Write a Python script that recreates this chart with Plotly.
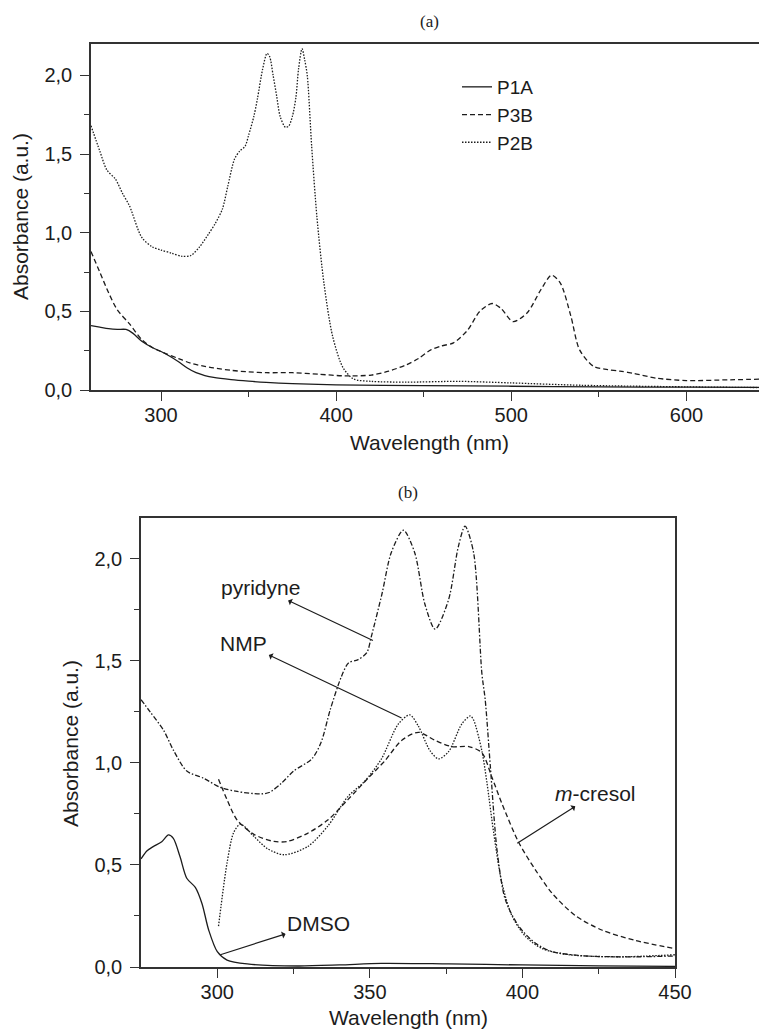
import plotly.graph_objects as go

# ---------------- data: panel (a) ----------------
p1a_wl = [260, 265, 270, 275, 280, 284, 289, 295, 300, 305, 310, 315, 320, 325, 330,
          340, 350, 360, 375, 400, 450, 500, 550, 600, 648]
p1a_abs = [0.41, 0.40, 0.39, 0.385, 0.385, 0.36, 0.31, 0.27, 0.245, 0.215, 0.18, 0.14, 0.11, 0.092, 0.08,
           0.066, 0.056, 0.048, 0.04, 0.033, 0.028, 0.024, 0.02, 0.018, 0.016]

p3b_wl = [260, 265, 270, 275, 282, 289, 295, 303, 310, 317, 325, 330, 340, 350, 360, 375, 390,
          405, 420, 430, 440, 447, 454, 460, 467, 475, 482, 489, 494, 501, 509, 517, 523, 528,
          534, 539, 547, 555, 562, 570, 583, 600, 625, 648]
p3b_abs = [0.88, 0.75, 0.62, 0.51, 0.42, 0.32, 0.27, 0.23, 0.20, 0.17, 0.15, 0.14, 0.125, 0.115, 0.11, 0.11, 0.10,
           0.09, 0.095, 0.12, 0.16, 0.20, 0.255, 0.28, 0.30, 0.38, 0.50, 0.55, 0.52, 0.435, 0.49, 0.64, 0.73, 0.68,
           0.47, 0.255, 0.15, 0.13, 0.12, 0.105, 0.075, 0.06, 0.065, 0.07]

p2b_wl = [260, 265, 269, 274, 278, 282, 289, 295, 300, 306, 312, 317, 322, 327, 331, 335, 338, 342,
          345, 348, 350, 353, 355, 358, 360.5, 362, 364, 366, 368, 371, 373, 375, 377, 378.5, 380.5,
          382, 383.5, 386, 389, 393, 398, 404, 410, 420, 440, 470, 500, 540, 600, 648]
p2b_abs = [1.68, 1.52, 1.40, 1.34, 1.25, 1.17, 0.97, 0.91, 0.89, 0.87, 0.85, 0.855, 0.91, 0.99, 1.06, 1.15, 1.29, 1.47,
           1.52, 1.55, 1.62, 1.74, 1.85, 2.04, 2.14, 2.12, 2.00, 1.87, 1.74, 1.67, 1.68, 1.74, 1.86, 2.04, 2.17,
           2.10, 2.00, 1.55, 1.10, 0.68, 0.34, 0.14, 0.07, 0.055, 0.05, 0.055, 0.045, 0.03, 0.02, 0.015]

# ---------------- data: panel (b) ----------------
pyr_wl = [275, 278, 282.4, 285.7, 290, 295.5, 301, 306.5, 314, 317, 321, 325, 331, 334, 337, 340.6,
          343, 346, 349, 350.5, 354, 357, 361, 364.7, 368, 371.4, 375.8, 379, 381.2, 384, 386.7,
          387.8, 389.5, 391.7, 394.4, 398.8, 404.3, 409.8, 420.8, 437, 450]
pyr_abs = [1.31, 1.25, 1.16, 1.06, 0.96, 0.925, 0.88, 0.86, 0.848, 0.855, 0.90, 0.96, 1.02, 1.10, 1.26, 1.42,
           1.49, 1.505, 1.54, 1.62, 1.83, 2.03, 2.14, 2.03, 1.78, 1.655, 1.80, 2.06, 2.16, 2.03, 1.44,
           1.31, 0.98, 0.57, 0.33, 0.20, 0.116, 0.075, 0.054, 0.05, 0.054]

nmp_wl = [300.4, 303.2, 305.4, 307.6, 312, 316.4, 321.9, 329.6, 336.2, 342.8, 348.3, 353.8, 359.3,
          363.1, 365.9, 369.7, 372.5, 375.8, 380.1, 382.9, 384, 386.7, 388.4, 390.6, 393.3, 396.6,
          401, 406.5, 415.3, 431.8, 450]
nmp_abs = [0.2, 0.51, 0.66, 0.70, 0.64, 0.58, 0.55, 0.59, 0.69, 0.835, 0.91, 1.02, 1.19,
           1.235, 1.18, 1.06, 1.02, 1.055, 1.19, 1.23, 1.21, 1.06, 0.90, 0.655, 0.41, 0.25,
           0.15, 0.09, 0.06, 0.05, 0.06]

cre_wl = [300.4, 303.2, 306.5, 312, 318.6, 322.9, 329.6, 336.2, 342.8, 349.4, 354.9, 360.4, 365.9,
          371.4, 376.8, 382.4, 386.7, 390, 393.3, 398.8, 404.3, 409.8, 417.5, 426.2, 437, 450]
cre_abs = [0.92, 0.82, 0.72, 0.65, 0.615, 0.615, 0.655, 0.72, 0.82, 0.925, 1.01, 1.11, 1.15,
           1.11, 1.08, 1.08, 1.05, 0.93, 0.80, 0.61, 0.475, 0.36, 0.25, 0.18, 0.13, 0.09]

dmso_wl = [275, 277, 279, 281.8, 284, 285.6, 287.8, 290, 292.8, 295, 297.2, 300, 303.2, 309.8,
           326.3, 340, 353.8, 375.8, 400, 425, 450]
dmso_abs = [0.53, 0.57, 0.59, 0.614, 0.647, 0.63, 0.54, 0.435, 0.39, 0.31, 0.18, 0.075, 0.034, 0.015,
            0.005, 0.01, 0.018, 0.015, 0.01, 0.006, 0.003]

# ---------------- ticks ----------------
ya_vals = [0, 0.5, 1.0, 1.5, 2.0]
ya_text = ["0,0", "0,5", "1,0", "1,5", "2,0"]
ya_minor = [0.25, 0.75, 1.25, 1.75]
xa_vals = [300, 400, 500, 600]
xa_text = ["300", "400", "500", "600"]
xa_minor = [350, 450, 550]
xb_vals = [300, 350, 400, 450]
xb_text = ["300", "350", "400", "450"]
xb_minor = [325, 375, 425]

# page body has an 8px margin: size the figure to the visible area
OFF = 8
W, H = 767 - OFF, 1032 - OFF
INK = "#1c1c1c"
AX = "#333333"
SANS = "Liberation Sans, Arial, sans-serif"
SERIF = "Liberation Serif, Times New Roman, serif"


def fx(p):
    return (p - OFF) / W


def fy(p):
    return 1 - (p - OFF) / H


fig = go.Figure()


def add(x, y, name, dash, xa, ya, show):
    fig.add_trace(go.Scatter(
        x=x, y=y, name=name, mode="lines", xaxis=xa, yaxis=ya, showlegend=show,
        line=dict(color=INK, width=1.3, dash=dash, shape="spline", smoothing=0.8)))


add(p1a_wl, p1a_abs, "P1A", "solid", "x", "y", True)
add(p3b_wl, p3b_abs, "P3B", "5px,3px", "x", "y", True)
add(p2b_wl, p2b_abs, "P2B", "1.5px,1.5px", "x", "y", True)

add(dmso_wl, dmso_abs, "DMSO", "solid", "x2", "y2", False)
add(cre_wl, cre_abs, "m-cresol", "5px,3px", "x2", "y2", False)
add(nmp_wl, nmp_abs, "NMP", "1.5px,1.5px", "x2", "y2", False)
add(pyr_wl, pyr_abs, "pyridyne", "5px,2px,1.5px,2px", "x2", "y2", False)


def axis_style(vals, text, minor, rng, domain, anchor, standoff):
    return dict(
        domain=domain, range=rng, anchor=anchor, autorange=False,
        showline=True, linecolor=AX, linewidth=1.5, mirror=True,
        showgrid=False, zeroline=False, automargin=False,
        ticks="outside", ticklen=9, tickwidth=1.3, tickcolor=AX,
        tickvals=vals, ticktext=text, ticklabelstandoff=standoff,
        tickfont=dict(family=SANS, size=20, color=INK),
        minor=dict(tickvals=minor, ticks="outside", ticklen=5, tickwidth=1.3, tickcolor=AX, showgrid=False),
    )


fig.update_layout(
    width=W, height=H, autosize=False,
    margin=dict(l=0, r=0, t=0, b=0),
    paper_bgcolor="white", plot_bgcolor="white",
    template="none",
    xaxis=axis_style(xa_vals, xa_text, xa_minor, [260, 646], [fx(91), 1.0], "y", -3),
    yaxis=axis_style(ya_vals, ya_text, ya_minor, [0, 2.2], [fy(390), fy(44)], "x", 4),
    xaxis2=axis_style(xb_vals, xb_text, xb_minor, [275, 450], [fx(141), fx(675)], "y2", -3),
    yaxis2=axis_style(ya_vals, ya_text, ya_minor, [0, 2.2], [fy(967), fy(518)], "x2", 4),
    legend=dict(x=fx(457), y=fy(68), xanchor="left", yanchor="top",
                bgcolor="rgba(0,0,0,0)", borderwidth=0,
                font=dict(family=SANS, size=19, color=INK), tracegroupgap=0),
)


def label(text, x, y, size=21, angle=0, family=SANS):
    fig.add_annotation(text=text, x=fx(x), y=fy(y), xref="paper", yref="paper",
                       showarrow=False, textangle=angle, xanchor="center", yanchor="middle",
                       font=dict(family=family, size=size, color=INK))


label("(a)", 429, 21, size=17, family=SERIF)
label("(b)", 408, 492, size=17, family=SERIF)
label("Absorbance (a.u.)", 20, 217, angle=-90)
label("Absorbance (a.u.)", 70, 744, angle=-90)
label("Wavelength (nm)", 429, 442)
label("Wavelength (nm)", 408, 1017)


def arrow(text, x, y, ax, ay):
    fig.add_annotation(text=text, x=x, y=y, ax=ax, ay=ay, xref="x2", yref="y2",
                       axref="x2", ayref="y2", showarrow=True, arrowside="start",
                       arrowhead=2, arrowsize=1.1, arrowwidth=1.2, arrowcolor=INK,
                       font=dict(family=SANS, size=21, color=INK))


arrow("pyridyne", 351, 1.60, 314.2, 1.86)
arrow("NMP", 360.4, 1.22, 308.7, 1.587)
arrow("DMSO", 301, 0.06, 333.2, 0.214)
arrow("<i>m</i>-cresol", 398.3, 0.606, 424, 0.851)

fig.write_html("out.html")
